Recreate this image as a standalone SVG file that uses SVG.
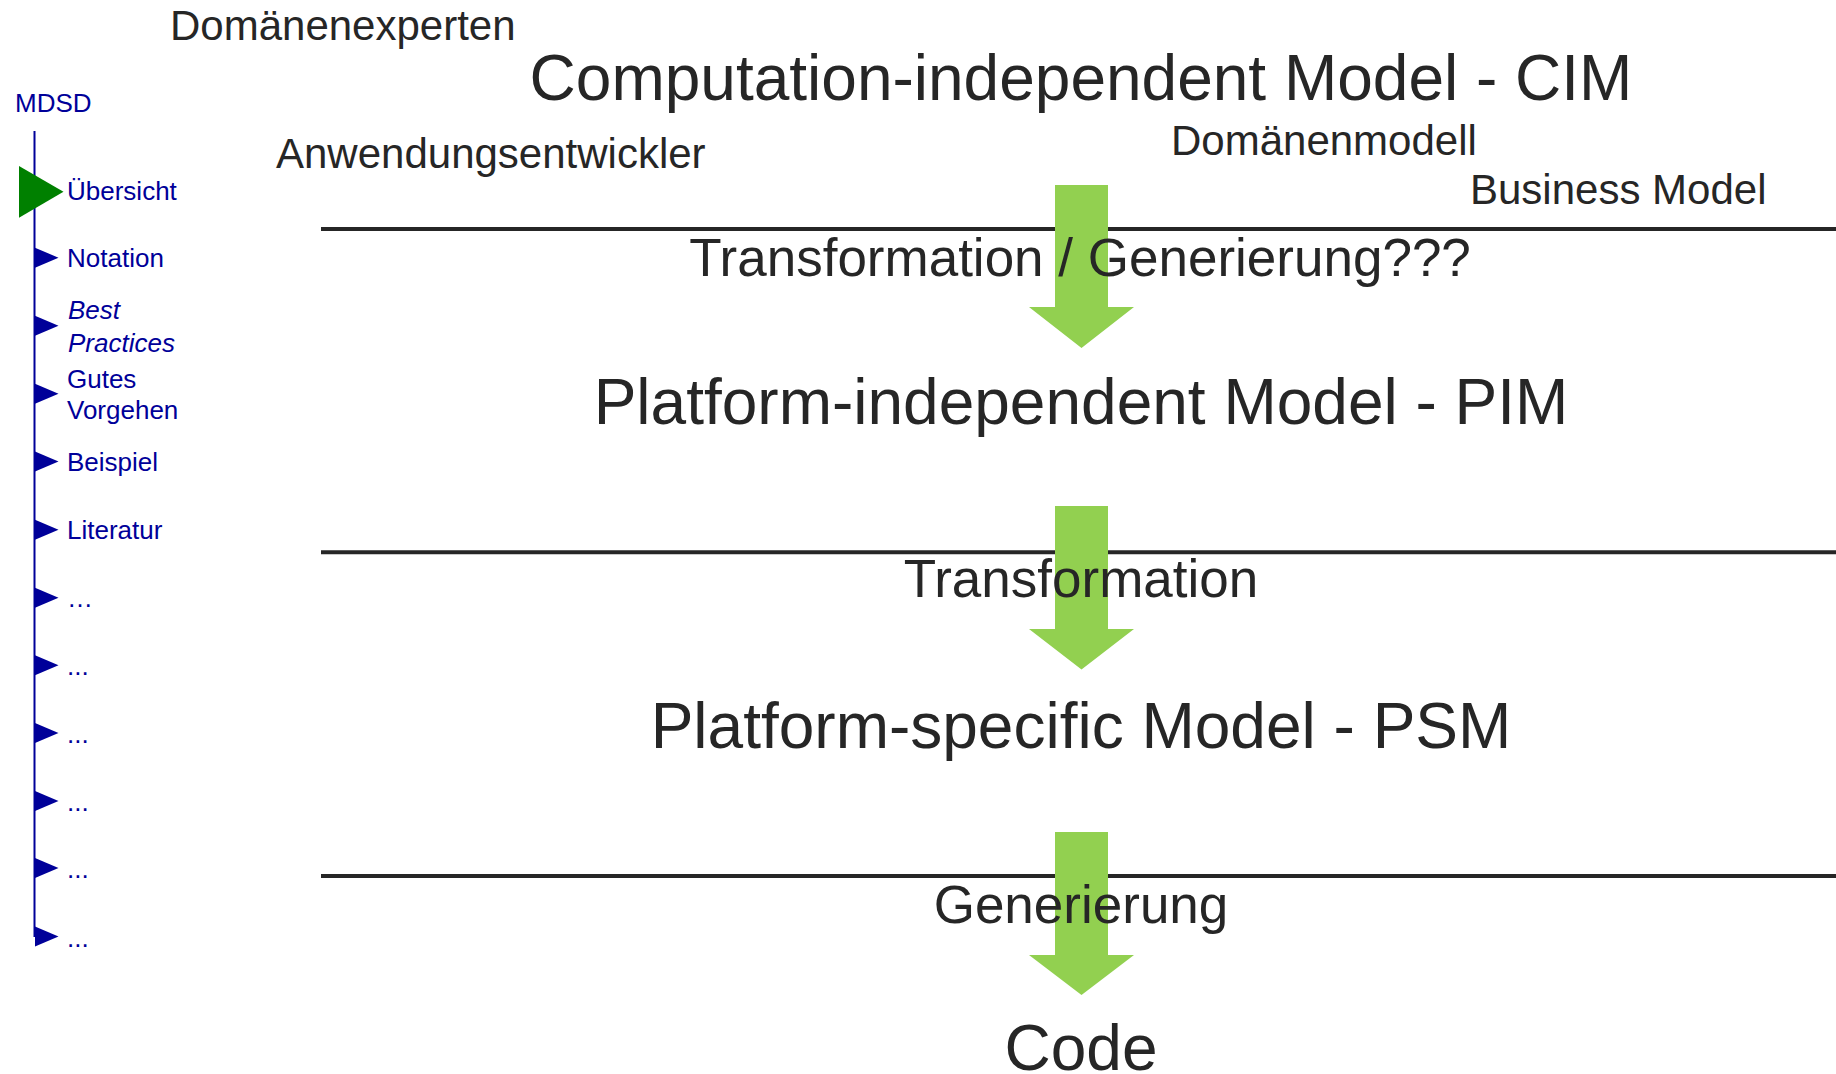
<svg xmlns="http://www.w3.org/2000/svg" width="1836" height="1074" viewBox="0 0 1836 1074">
<style>
  .nav { font-family: "Liberation Sans", Arial, sans-serif; font-size: 26px; fill: #000099; }
  .navtri { fill: #000099; }
  .big { font-family: "Liberation Sans", Arial, sans-serif; font-size: 64px; fill: #262626; text-anchor: middle; }
  .mid { font-family: "Liberation Sans", Arial, sans-serif; font-size: 53px; fill: #262626; text-anchor: middle; }
  .small { font-family: "Liberation Sans", Arial, sans-serif; font-size: 42px; fill: #262626; }
  .sep { stroke: #262626; stroke-width: 4; }
  .arrow { fill: #92D050; }
</style>
<rect width="1836" height="1074" fill="#ffffff"/>

<g id="navigation">
  <text class="nav" x="15" y="112">MDSD</text>
  <line x1="34.5" y1="131" x2="34.5" y2="937" stroke="#000099" stroke-width="2"/>
  <polygon points="19,166 63.5,191.7 19,217.7" fill="#008000"/>
  <text class="nav" x="67" y="200">Übersicht</text>
  <polygon class="navtri" points="35,247.7 58.5,257.7 35,267.7"/>
  <text class="nav" x="67" y="267">Notation</text>
  <polygon class="navtri" points="35,315.7 58.5,325.7 35,335.7"/>
  <text class="nav" x="68" y="319" font-style="italic">Best</text>
  <text class="nav" x="68" y="351.5" font-style="italic">Practices</text>
  <polygon class="navtri" points="35,383.7 58.5,393.7 35,403.7"/>
  <text class="nav" x="67" y="387.5">Gutes</text>
  <text class="nav" x="67" y="419">Vorgehen</text>
  <polygon class="navtri" points="35,451.5 58.5,461.5 35,471.5"/>
  <text class="nav" x="67" y="470.7">Beispiel</text>
  <polygon class="navtri" points="35,519.7 58.5,529.7 35,539.7"/>
  <text class="nav" x="67" y="539.3">Literatur</text>
  <polygon class="navtri" points="35,587.8 58.5,597.8 35,607.8"/>
  <text class="nav" x="67" y="607">…</text>
  <polygon class="navtri" points="35,655.2 58.5,665.2 35,675.2"/>
  <text class="nav" x="67" y="675">...</text>
  <polygon class="navtri" points="35,723 58.5,733 35,743"/>
  <text class="nav" x="67" y="743">...</text>
  <polygon class="navtri" points="35,791 58.5,801 35,811"/>
  <text class="nav" x="67" y="811">...</text>
  <polygon class="navtri" points="35,858 58.5,868 35,878"/>
  <text class="nav" x="67" y="878">...</text>
  <polygon class="navtri" points="35,926.5 58.5,936.5 35,946.5"/>
  <text class="nav" x="67" y="946.5">...</text>
</g>

<g id="connectors">
  <line class="sep" x1="321" y1="229" x2="1836" y2="229"/>
  <line class="sep" x1="321" y1="552.3" x2="1836" y2="552.3"/>
  <line class="sep" x1="321" y1="876" x2="1836" y2="876"/>
  <polygon class="arrow" points="1055,185 1108,185 1108,307 1134,307 1081.5,348 1029,307 1055,307"/>
  <polygon class="arrow" points="1055,506 1108,506 1108,629 1134,629 1081.5,669.5 1029,629 1055,629"/>
  <polygon class="arrow" points="1055,832 1108,832 1108,955 1134,955 1081.5,995 1029,955 1055,955"/>
</g>

<g id="labels-top">
  <text class="small" x="170" y="40">Domänenexperten</text>
  <text class="small" x="276" y="167.5">Anwendungsentwickler</text>
  <text class="small" x="1171" y="155">Domänenmodell</text>
  <text class="small" x="1470" y="204">Business Model</text>
</g>

<g id="cim"><text class="big" x="1081" y="100">Computation-independent Model - CIM</text></g>
<g id="t1"><text class="mid" x="1080" y="276">Transformation / Generierung???</text></g>
<g id="pim"><text class="big" x="1081" y="423.5">Platform-independent Model - PIM</text></g>
<g id="t2"><text class="mid" x="1081" y="597.3">Transformation</text></g>
<g id="psm"><text class="big" x="1081" y="748.3">Platform-specific Model - PSM</text></g>
<g id="t3"><text class="mid" x="1081" y="923.3">Generierung</text></g>
<g id="code"><text class="big" x="1081" y="1070">Code</text></g>
</svg>
